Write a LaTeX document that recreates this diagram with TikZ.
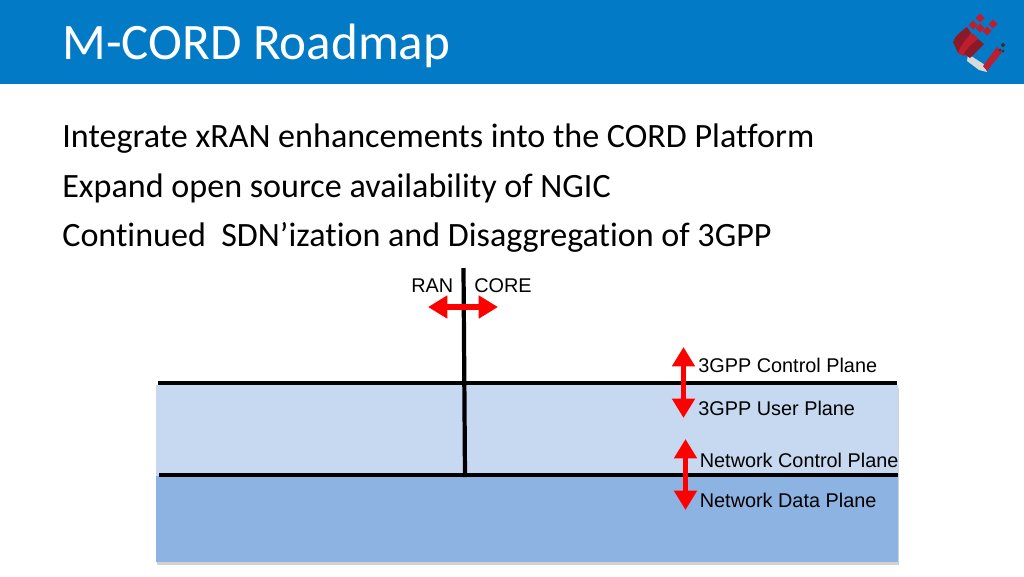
\documentclass[tikz,border=0pt]{standalone}
\usepackage{fontspec}
\setmainfont{Carlito}[Ligatures=CommonOff]
\setsansfont{Liberation Sans}
\usetikzlibrary{arrows.meta}
\definecolor{headblue}{RGB}{2,122,197}
\definecolor{upperblue}{RGB}{198,217,240}
\definecolor{lowerblue}{RGB}{141,179,226}
\definecolor{logored}{RGB}{190,30,45}
\definecolor{logodark}{RGB}{140,25,40}
\tikzset{
  bodyline/.style={black, right, inner sep=0pt, font=\fontsize{19.4}{22}\selectfont},
  planelabel/.style={black, right, inner sep=0pt, font=\sffamily\fontsize{11.3}{13}\selectfont},
  blackline/.style={black, line width=2.4pt},
  redarrow/.style={red, line width=2.9pt, {Triangle[width=12.5pt,length=11pt]}-{Triangle[width=12.5pt,length=11pt]}}
}
\begin{document}
\begin{tikzpicture}[x=0.02cm, y=-0.02cm]
\useasboundingbox (0, 0) rectangle (1024, 576);
% header
\fill[headblue] (0, 0) rectangle (1024, 84);
\node[white, right, inner sep=0pt, font=\fontsize{29.1}{32}\selectfont] (title) at (62, 46){M-CORD Roadmap};
% logo
\fill[gray!30] (968, 54) -- (985, 65) -- (987, 72) -- (979, 70) -- (967, 61) -- cycle;
\fill[logored] (983, 66) -- (997, 47) -- (1002, 52) -- (987, 71) -- cycle;
\fill[logodark] (953, 42).. controls(955, 36)and(960, 32)..(967, 27) -- (971, 33) -- (958, 53) -- cycle;
\fill[logored] (958, 53).. controls(961, 44)and(967, 38)..(972, 33) -- (978, 38) -- (964, 56) -- cycle;
\fill[logodark] (964, 54).. controls(967, 48)and(973, 43)..(978, 39) -- (984, 44) -- (970, 58) -- cycle;
\foreach \sx/\sy in {980/18, 973/25, 980/28, 987/31, 993/24}
  \fill[logored] (\sx, \sy-4.5) -- (\sx+4.5, \sy) -- (\sx, \sy+4.5) -- (\sx-4.5, \sy) -- cycle;
\fill[black!80] (1003, 45) circle (2);
\fill[black!80] (1000, 50) circle (1.5);
\fill[black!80] (1003, 51) circle (1.5);
% body text
\node[bodyline] (lineA) at (62, 139){Integrate xRAN enhancements into the CORD Platform};
\node[bodyline] (lineB) at (62, 188){Expand open source availability of NGIC};
\node[bodyline] (lineC) at (62, 237.5){Continued\ \ SDN’ization and Disaggregation of 3GPP};
% layers
\fill[gray!35] (157, 388) rectangle (898.5, 565);
\fill[upperblue] (156, 385) rectangle (898, 476);
\fill[lowerblue] (156, 476) rectangle (898, 562);
% lines
\coordinate (upperL) at (158, 383);
\coordinate (upperR) at (897, 383);
\coordinate (lowerL) at (159, 475);
\coordinate (lowerR) at (898, 475);
\coordinate (splitT) at (463.5, 268);
\coordinate (splitB) at (465, 477);
\draw[blackline] (upperL) -- (upperR);
\draw[blackline] (lowerL) -- (lowerR);
\draw[blackline] (splitT) -- (splitB);
% labels
\node[planelabel] (ran) at (411, 285.5){RAN};
\node[planelabel] (core) at (474, 285.5){CORE};
\node[planelabel] (ctrl) at (698, 365){3GPP Control Plane};
\node[planelabel] (user) at (698, 408){3GPP User Plane};
\node[planelabel] (netctrl) at (699.5, 460){Network Control Plane};
\node[planelabel] (netdata) at (699.5, 500){Network Data Plane};
% arrows
\coordinate (ranTip) at (428, 307);
\coordinate (coreTip) at (498, 307);
\coordinate (ctrlTip) at (683.5, 347);
\coordinate (userTip) at (683.5, 418);
\coordinate (netctrlTip) at (685.5, 439);
\coordinate (netdataTip) at (685.5, 510);
\draw[redarrow] (ranTip) -- (coreTip);
\draw[redarrow] (ctrlTip) -- (userTip);
\draw[redarrow] (netctrlTip) -- (netdataTip);
\end{tikzpicture}
\end{document}
